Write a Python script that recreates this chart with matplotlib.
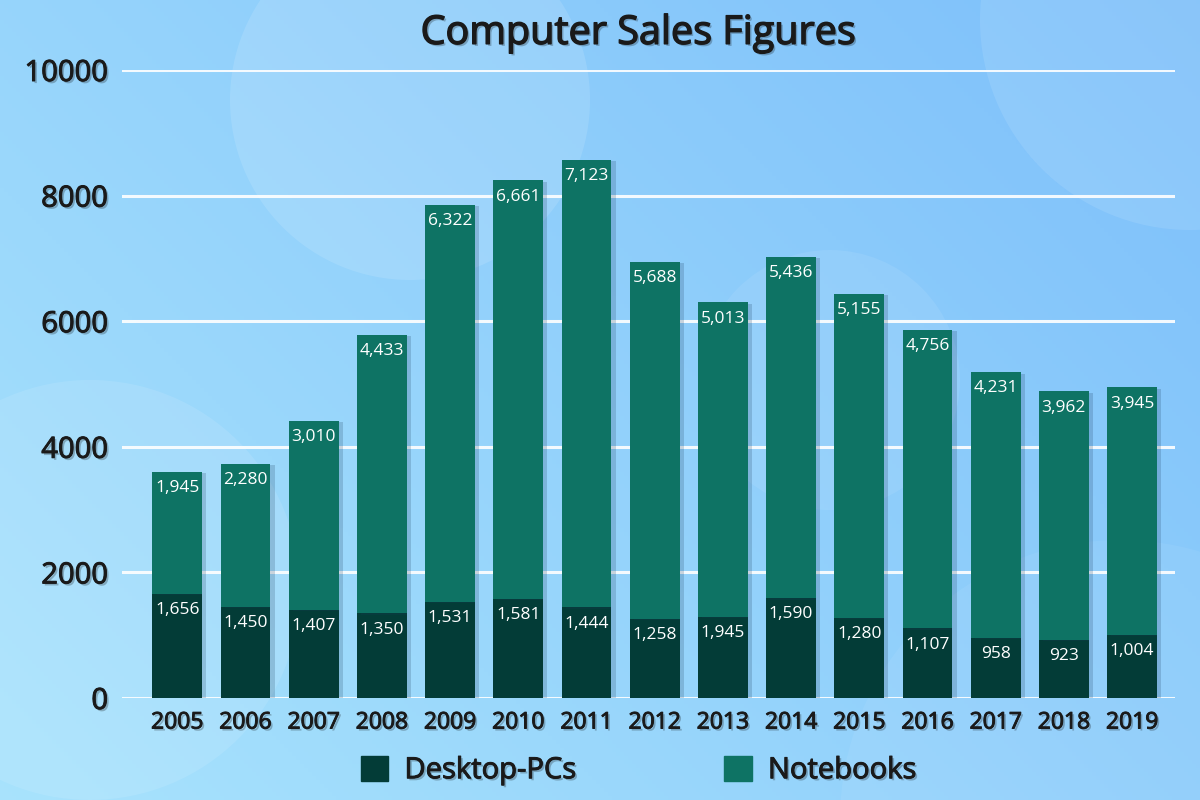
import numpy as np
import matplotlib.pyplot as plt
import matplotlib.patheffects as pe
from matplotlib.patches import Circle, Patch

plt.rcParams['font.family'] = ['Open Sans', 'DejaVu Sans']

years = ['2005', '2006', '2007', '2008', '2009', '2010', '2011', '2012',
         '2013', '2014', '2015', '2016', '2017', '2018', '2019']
desktop = [1656, 1450, 1407, 1350, 1531, 1581, 1444, 1258,
           1290, 1590, 1280, 1107, 958, 923, 1004]
desktop_labels = ['1,656', '1,450', '1,407', '1,350', '1,531', '1,581', '1,444', '1,258',
                  '1,945', '1,590', '1,280', '1,107', '958', '923', '1,004']
notebooks = [1945, 2280, 3010, 4433, 6322, 6661, 7123, 5688,
             5013, 5436, 5155, 4756, 4231, 3962, 3945]
yticks = [0, 2000, 4000, 6000, 8000, 10000]

c_desk = '#033c37'
c_note = '#0e7364'
txt_dark = '#1a1a1a'

fig = plt.figure(figsize=(12, 8), dpi=100)

# background gradient with soft circles
bg = fig.add_axes([0, 0, 1, 1])
bg.set_xlim(0, 1200)
bg.set_ylim(800, 0)
bg.axis('off')
gx, gy = np.meshgrid(np.linspace(0, 1, 300), np.linspace(0, 1, 200))
t = np.clip(0.6 * gx + 0.4 * (1 - gy), 0, 1)
top_l = np.array([0.66, 0.89, 0.99])
bot_r = np.array([0.49, 0.75, 0.98])
img = top_l[None, None, :] * (1 - t[..., None]) + bot_r[None, None, :] * t[..., None]
bg.imshow(img, extent=[0, 1200, 800, 0], aspect='auto', zorder=0)
for (cx, cy, r, a) in [(410, 100, 180, 0.12), (1190, 20, 210, 0.10),
                       (90, 590, 210, 0.10), (830, 380, 130, 0.08),
                       (1120, 820, 280, 0.06)]:
    bg.add_patch(Circle((cx, cy), r, color='white', alpha=a, lw=0, zorder=1))

ax = fig.add_axes([0.1017, 0.1275, 0.8775, 0.785])
ax.patch.set_alpha(0)
x = np.arange(len(years))
shadow = [pe.SimplePatchShadow(offset=(3, -1), alpha=0.2, shadow_rgbFace='#1b3b5a'), pe.Normal()]
b1 = ax.bar(x, desktop, width=0.73, color=c_desk, zorder=3)
b2 = ax.bar(x, notebooks, width=0.73, bottom=desktop, color=c_note, zorder=3)
for b in list(b1) + list(b2):
    b.set_path_effects(shadow)

for i in range(len(years)):
    ax.annotate(desktop_labels[i], (x[i], desktop[i]), xytext=(0, -6), textcoords='offset points',
                ha='center', va='top', color='white', fontsize=12.5, zorder=5)
    ax.annotate(f'{notebooks[i]:,}', (x[i], desktop[i] + notebooks[i]), xytext=(0, -6),
                textcoords='offset points', ha='center', va='top', color='white', fontsize=12.5, zorder=5)

ax.set_xlim(-0.81, 14.63)
ax.set_ylim(0, 10000)
ax.set_yticks(yticks)
ax.set_xticks(x)
ax.set_xticklabels(years)
for yv in yticks:
    ax.axhline(yv, color='white', lw=2.2, alpha=0.9, zorder=1)
for s in ax.spines.values():
    s.set_visible(False)
ax.tick_params(length=0)
ax.tick_params(axis='y', pad=10, labelsize=21, labelcolor=txt_dark)
ax.tick_params(axis='x', pad=9, labelsize=16.5, labelcolor=txt_dark)
# regular weight thickened a little, plus soft drop shadow
tshadow = [pe.SimplePatchShadow(offset=(1.5, -1.5), alpha=0.25),
           pe.Stroke(linewidth=0.7, foreground=txt_dark), pe.Normal()]
for lab in ax.get_yticklabels() + ax.get_xticklabels():
    lab.set_path_effects(tshadow)

fig.text(0.532, 0.958, 'Computer Sales Figures', ha='center', va='center', fontsize=28.5,
         color=txt_dark, path_effects=[pe.SimplePatchShadow(offset=(1.5, -1.5), alpha=0.25),
                                       pe.Stroke(linewidth=1.0, foreground=txt_dark), pe.Normal()])

handles = [Patch(color=c_desk, label='Desktop-PCs'), Patch(color=c_note, label='Notebooks')]
leg = fig.legend(handles=handles, loc='center', bbox_to_anchor=(0.532, 0.037), ncol=2,
                 frameon=False, handlelength=0.95, handleheight=0.95, handletextpad=0.55,
                 columnspacing=5.1, prop={'size': 21})
for tx in leg.get_texts():
    tx.set_color(txt_dark)
    tx.set_path_effects(tshadow)

fig.savefig('out.png', dpi=100)
